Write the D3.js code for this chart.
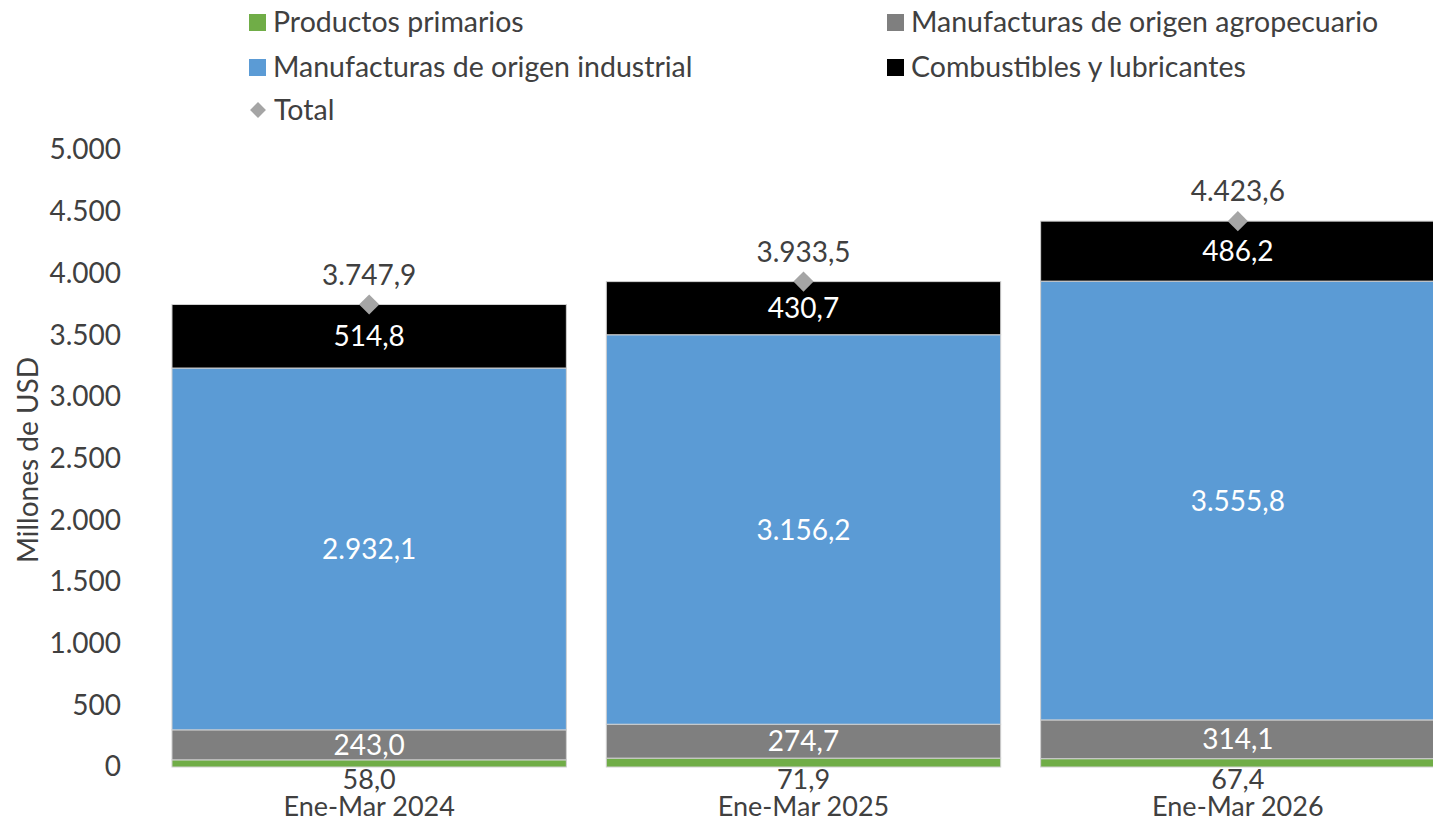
<!DOCTYPE html>
<html>
<head>
<meta charset="utf-8">
<script src="https://cdn.jsdelivr.net/npm/d3@7"></script>
<style>
  body { margin: 0; background: #fff; }
  svg { display: block; font-family: Lato, "Open Sans", sans-serif; }
</style>
</head>
<body>
<script>
var categories = ["Ene-Mar 2024", "Ene-Mar 2025", "Ene-Mar 2026"];
var primarios = [58.0, 71.9, 67.4];
var agro = [243.0, 274.7, 314.1];
var industrial = [2932.1, 3156.2, 3555.8];
var combustibles = [514.8, 430.7, 486.2];
var totals = [3747.9, 3933.5, 4423.6];
var yTicks = [0, 500, 1000, 1500, 2000, 2500, 3000, 3500, 4000, 4500, 5000];

var seriesNames = ["Productos primarios", "Manufacturas de origen agropecuario",
                   "Manufacturas de origen industrial", "Combustibles y lubricantes"];
var seriesValues = [primarios, agro, industrial, combustibles];
var colors = ["#70ad47", "#7f7f7f", "#5b9bd5", "#000000"];

var width = 1433, height = 822;
var svg = d3.select("body").append("svg")
  .attr("width", width).attr("height", height);

var locale = d3.formatLocale({decimal: ",", thousands: ".", grouping: [3], currency: ["", ""]});
var fmtTick = locale.format(",.0f");
var fmtVal = locale.format(",.1f");

var x = d3.scaleBand().domain(categories).range([152, 1455]).paddingInner(0.092).paddingOuter(0.046);
var y = d3.scaleLinear().domain([0, 5000]).range([767, 150]);

// stacked data
var table = categories.map(function(c, i) {
  var row = {cat: c};
  seriesNames.forEach(function(s, j) { row[s] = seriesValues[j][i]; });
  return row;
});
var stacked = d3.stack().keys(seriesNames)(table);

var groups = svg.selectAll("g.series")
  .data(stacked)
  .enter().append("g")
  .attr("class", "series")
  .attr("fill", function(d, i) { return colors[i]; });

groups.selectAll("rect")
  .data(function(d) { return d; })
  .enter().append("rect")
  .attr("x", function(d) { return x(d.data.cat); })
  .attr("y", function(d) { return y(d[1]); })
  .attr("width", x.bandwidth())
  .attr("height", function(d) { return y(d[0]) - y(d[1]); })
  .attr("stroke", "#d0d0d0")
  .attr("stroke-width", 1);

// segment labels (white, inside)
stacked.forEach(function(layer, j) {
  if (j === 0) return;
  svg.selectAll(null)
    .data(layer)
    .enter().append("text")
    .attr("x", function(d) { return x(d.data.cat) + x.bandwidth() / 2; })
    .attr("y", function(d) { return (y(d[0]) + y(d[1])) / 2; })
    .attr("dy", "0.36em")
    .attr("text-anchor", "middle")
    .attr("fill", "#fff")
    .attr("font-size", 28)
    .text(function(d) { return fmtVal(d[1] - d[0]); });
});

// primarios labels below bar
svg.selectAll(null)
  .data(categories)
  .enter().append("text")
  .attr("x", function(d) { return x(d) + x.bandwidth() / 2; })
  .attr("y", y(0) + 12)
  .attr("dy", "0.36em")
  .attr("text-anchor", "middle")
  .attr("fill", "#404040")
  .attr("font-size", 27)
  .text(function(d, i) { return fmtVal(primarios[i]); });

// category labels
svg.selectAll(null)
  .data(categories)
  .enter().append("text")
  .attr("x", function(d) { return x(d) + x.bandwidth() / 2; })
  .attr("y", 806)
  .attr("dy", "0.36em")
  .attr("text-anchor", "middle")
  .attr("fill", "#404040")
  .attr("font-size", 27)
  .text(function(d) { return d; });

// totals: diamonds + labels
var diamond = d3.symbol().type(d3.symbolDiamond2).size(260);
svg.selectAll(null)
  .data(totals)
  .enter().append("path")
  .attr("d", diamond)
  .attr("transform", function(d, i) {
    return "translate(" + (x(categories[i]) + x.bandwidth() / 2) + "," + y(d) + ")";
  })
  .attr("fill", "#a5a5a5");

svg.selectAll(null)
  .data(totals)
  .enter().append("text")
  .attr("x", function(d, i) { return x(categories[i]) + x.bandwidth() / 2; })
  .attr("y", function(d) { return y(d) - 30; })
  .attr("dy", "0.36em")
  .attr("text-anchor", "middle")
  .attr("fill", "#404040")
  .attr("font-size", 28)
  .text(function(d) { return fmtVal(d); });

// y axis
var yAxis = d3.axisLeft(y).tickValues(yTicks).tickFormat(fmtTick).tickSize(0).tickPadding(0);
var ag = svg.append("g").attr("transform", "translate(121,0)").call(yAxis);
ag.select(".domain").remove();
ag.selectAll("text").attr("font-size", 28).attr("fill", "#404040")
  .attr("font-family", "Lato, 'Open Sans', sans-serif");

svg.append("text")
  .attr("transform", "translate(28,460) rotate(-90)")
  .attr("dy", "0.36em")
  .attr("text-anchor", "middle")
  .attr("fill", "#404040")
  .attr("font-size", 28)
  .text("Millones de USD");

// legend
var legendItems = [
  {name: seriesNames[0], color: colors[0], x: 249, y: 22},
  {name: seriesNames[1], color: colors[1], x: 887, y: 22},
  {name: seriesNames[2], color: colors[2], x: 249, y: 67},
  {name: seriesNames[3], color: colors[3], x: 887, y: 67}
];
var lg = svg.selectAll("g.legend")
  .data(legendItems)
  .enter().append("g")
  .attr("class", "legend")
  .attr("transform", function(d) { return "translate(" + d.x + "," + d.y + ")"; });
lg.append("rect")
  .attr("x", 0).attr("y", -8).attr("width", 17).attr("height", 17)
  .attr("fill", function(d) { return d.color; });
lg.append("text")
  .attr("x", 24).attr("dy", "0.36em")
  .attr("fill", "#404040")
  .attr("font-size", 28.5)
  .text(function(d) { return d.name; });

var tl = svg.append("g").attr("transform", "translate(258,110)");
tl.append("path").attr("d", d3.symbol().type(d3.symbolDiamond2).size(160)).attr("fill", "#a5a5a5");
tl.append("text").attr("x", 16).attr("dy", "0.36em")
  .attr("fill", "#404040").attr("font-size", 28.5).text("Total");
</script>
</body>
</html>
